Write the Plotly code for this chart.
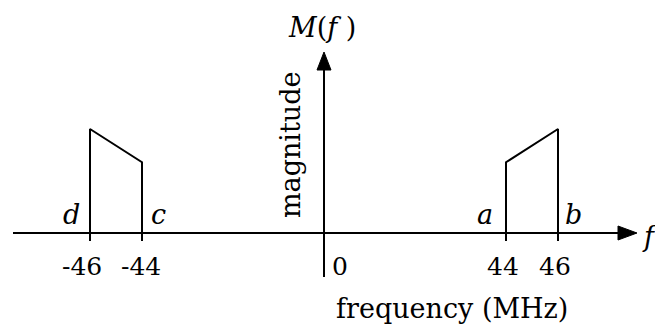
import plotly.graph_objects as go

# ---- data ----
freq_left = [-46, -44]          # MHz, band c..d
mag_left = [1.0, 0.68]
freq_right = [44, 46]           # MHz, band a..b
mag_right = [0.68, 1.0]
tick_freqs = [-46, -44, 44, 46]
tick_labels = ["-46", "-44", "44", "46"]
band_letters = ["d", "c", "a", "b"]

W, H = 655, 324
FONT = "DejaVu Serif"

# broken frequency scale: 0 at origin, |f|>=44 shown compressed
def pos(f):
    if f == 0:
        return 0.0
    s = 1 if f > 0 else -1
    return s * (abs(f) - 37)

def px(x):
    return x / W

def py(y):
    return 1 - y / H

XPX = 26.0    # pixels per display unit
YPX = 104.0   # pixels per magnitude unit
X0, Y0 = 324, 233

fig = go.Figure()

for fr, mg in [(freq_left, mag_left), (freq_right, mag_right)]:
    fig.add_trace(go.Scatter(
        x=[pos(fr[0]), pos(fr[0]), pos(fr[1]), pos(fr[1])],
        y=[0, mg[0], mg[1], 0],
        mode="lines", line=dict(color="black", width=2),
        hoverinfo="skip", showlegend=False))

shapes = []
shapes.append(dict(type="line", xref="paper", yref="paper",
                   x0=px(13), x1=px(622), y0=py(Y0), y1=py(Y0),
                   line=dict(color="black", width=2)))
shapes.append(dict(type="line", xref="paper", yref="paper",
                   x0=px(X0), x1=px(X0), y0=py(277), y1=py(66),
                   line=dict(color="black", width=2)))
shapes.append(dict(type="path", xref="paper", yref="paper",
                   path=f"M {px(618)} {py(226)} L {px(637)} {py(Y0)} L {px(618)} {py(240)} Z",
                   fillcolor="black", line=dict(color="black", width=1)))
shapes.append(dict(type="path", xref="paper", yref="paper",
                   path=f"M {px(317)} {py(70)} L {px(X0)} {py(52)} L {px(331)} {py(70)} Z",
                   fillcolor="black", line=dict(color="black", width=1)))
for f in tick_freqs:
    shapes.append(dict(type="line", xref="x", yref="y",
                       x0=pos(f), x1=pos(f), y0=0, y1=-8 / YPX,
                       line=dict(color="black", width=2)))

ann = []
fs_num = 25
fs_txt = 27
tick_center_px = {-46: 82, -44: 141, 44: 503, 46: 555}
for f, t in zip(tick_freqs, tick_labels):
    ann.append(dict(x=px(tick_center_px[f]), y=py(266), xref="paper", yref="paper",
                    text=t, showarrow=False,
                    font=dict(family=FONT, size=fs_num, color="black"),
                    xanchor="center", yanchor="middle"))
ann.append(dict(x=px(340), y=py(266), xref="paper", yref="paper", text="0",
                showarrow=False, font=dict(family=FONT, size=fs_num, color="black"),
                xanchor="center", yanchor="middle"))
letter_px = {"d": 71, "c": 158, "a": 485, "b": 573}
for L in band_letters:
    ann.append(dict(x=px(letter_px[L]), y=py(214), xref="paper", yref="paper",
                    text=f"<i>{L}</i>", showarrow=False,
                    font=dict(family=FONT, size=fs_txt, color="black"),
                    xanchor="center", yanchor="middle"))
ann.append(dict(x=px(640), y=py(236), xref="paper", yref="paper", text="<i>f</i>",
                showarrow=False, font=dict(family=FONT, size=fs_txt, color="black"),
                xanchor="left", yanchor="middle"))
ann.append(dict(x=px(322), y=py(27), xref="paper", yref="paper",
                text="<i>M</i>(<i>f</i> )", showarrow=False,
                font=dict(family=FONT, size=fs_txt, color="black"),
                xanchor="center", yanchor="middle"))
ann.append(dict(x=px(290), y=py(145), xref="paper", yref="paper", text="magnitude",
                showarrow=False, textangle=-90,
                font=dict(family=FONT, size=fs_txt, color="black"),
                xanchor="center", yanchor="middle"))
ann.append(dict(x=px(452), y=py(308), xref="paper", yref="paper", text="frequency (MHz)",
                showarrow=False, font=dict(family=FONT, size=fs_txt, color="black"),
                xanchor="center", yanchor="middle"))

fig.update_layout(
    width=W, height=H,
    margin=dict(l=0, r=0, t=0, b=0),
    paper_bgcolor="white", plot_bgcolor="white",
    xaxis=dict(range=[-X0 / XPX, (W - X0) / XPX], visible=False, fixedrange=True),
    yaxis=dict(range=[-(H - Y0) / YPX, Y0 / YPX], visible=False, fixedrange=True),
    shapes=shapes, annotations=ann, showlegend=False,
)

fig.write_html("out.html", config={"displayModeBar": False},
               post_script="document.body.style.margin='0';document.body.style.overflow='hidden';")
